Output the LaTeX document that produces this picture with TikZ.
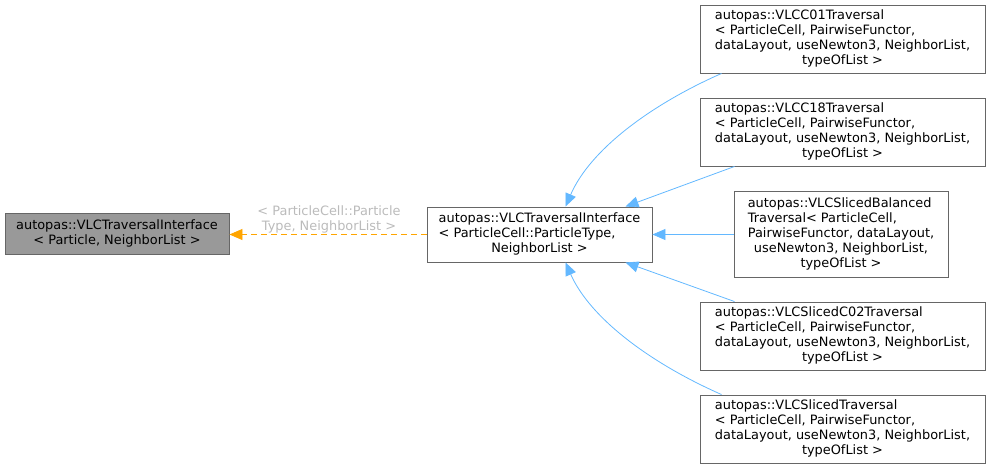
\documentclass[tikz,border=0pt]{standalone}
\usepackage{fontspec}
\setmainfont{DejaVu Sans}
\usetikzlibrary{calc,arrows.meta}

\definecolor{boxline}{HTML}{666666}
\definecolor{basefill}{HTML}{999999}
\definecolor{inhblue}{HTML}{63B8FF}
\definecolor{tplorange}{HTML}{FFA500}
\definecolor{lblgray}{HTML}{BBBBBB}

\newcommand{\lft}[1]{\multicolumn{1}{@{}l@{}}{#1}}

\begin{document}
\begin{tikzpicture}[x=1pt,y=-1pt,
  cls/.style={draw=boxline,fill=white,inner sep=0pt,line width=0.9pt,
    font=\fontsize{12.9}{14.8}\selectfont},
  inh/.style={draw=inhblue,line width=0.8pt,-{Triangle[length=13pt,width=11pt]}},
  tpl/.style={draw=tplorange,line width=0.9pt,dash pattern=on 6pt off 4pt,
    -{Triangle[length=13pt,width=11pt]}}]
  \useasboundingbox (0,0) rectangle (988,469);
  % base and interface
  \node[cls,fill=basefill,minimum width=224pt,minimum height=41pt] (base) at (117,234)
    {\begin{tabular}{@{}c@{}}autopas::VLCTraversalInterface\\< Particle, NeighborList >\end{tabular}};
  \node[cls,minimum width=225pt,minimum height=55pt] (iface) at (539.5,234.5)
    {\begin{tabular}{@{}c@{}}\lft{autopas::VLCTraversalInterface}\\\lft{< ParticleCell::ParticleType,}\\NeighborList >\end{tabular}};
  % derived traversals
  \node[cls,minimum width=285pt,minimum height=68pt] (c01) at (842.5,39)
    {\begin{tabular}{@{}c@{}}\lft{autopas::VLCC01Traversal}\\\lft{< ParticleCell, PairwiseFunctor,}\\dataLayout, useNewton3, NeighborList,\\typeOfList >\end{tabular}};
  \node[cls,minimum width=285pt,minimum height=68pt] (c18) at (842.5,132)
    {\begin{tabular}{@{}c@{}}\lft{autopas::VLCC18Traversal}\\\lft{< ParticleCell, PairwiseFunctor,}\\dataLayout, useNewton3, NeighborList,\\typeOfList >\end{tabular}};
  \node[cls,minimum width=214pt,minimum height=86pt] (balanced) at (841,234.5)
    {\begin{tabular}{@{}c@{}}\lft{autopas::VLCSlicedBalanced}\\\lft{Traversal< ParticleCell,}\\PairwiseFunctor, dataLayout,\\useNewton3, NeighborList,\\typeOfList >\end{tabular}};
  \node[cls,minimum width=285pt,minimum height=68pt] (c02) at (842.5,336)
    {\begin{tabular}{@{}c@{}}\lft{autopas::VLCSlicedC02Traversal}\\\lft{< ParticleCell, PairwiseFunctor,}\\dataLayout, useNewton3, NeighborList,\\typeOfList >\end{tabular}};
  \node[cls,minimum width=285pt,minimum height=68pt] (sliced) at (842.5,429)
    {\begin{tabular}{@{}c@{}}\lft{autopas::VLCSlicedTraversal}\\\lft{< ParticleCell, PairwiseFunctor,}\\dataLayout, useNewton3, NeighborList,\\typeOfList >\end{tabular}};
  % template edge
  \node[text=lblgray,inner sep=0pt,font=\fontsize{12.9}{14.8}\selectfont] (targs) at (329,220)
    {\begin{tabular}{@{}c@{}}< ParticleCell::Particle\\Type, NeighborList >\end{tabular}};
  \draw[tpl] (iface.west) -- (base.east |- iface.west);
  % inheritance edges
  \draw[inh] ($(c01.south west)+(22,0)$) .. controls (650,105) and (590,150) .. ($(iface.north)+(26,0)$);
  \draw[inh] ($(c18.south west)+(35,0)$) -- ($(iface.north)+(86,0)$);
  \draw[inh] (balanced.west) -- (iface.east);
  \draw[inh] ($(c02.north west)+(35,0)$) -- ($(iface.south)+(86,0)$);
  \draw[inh] ($(sliced.north west)+(22,0)$) .. controls (650,363) and (590,318) .. ($(iface.south)+(26,0)$);
\end{tikzpicture}
\end{document}
